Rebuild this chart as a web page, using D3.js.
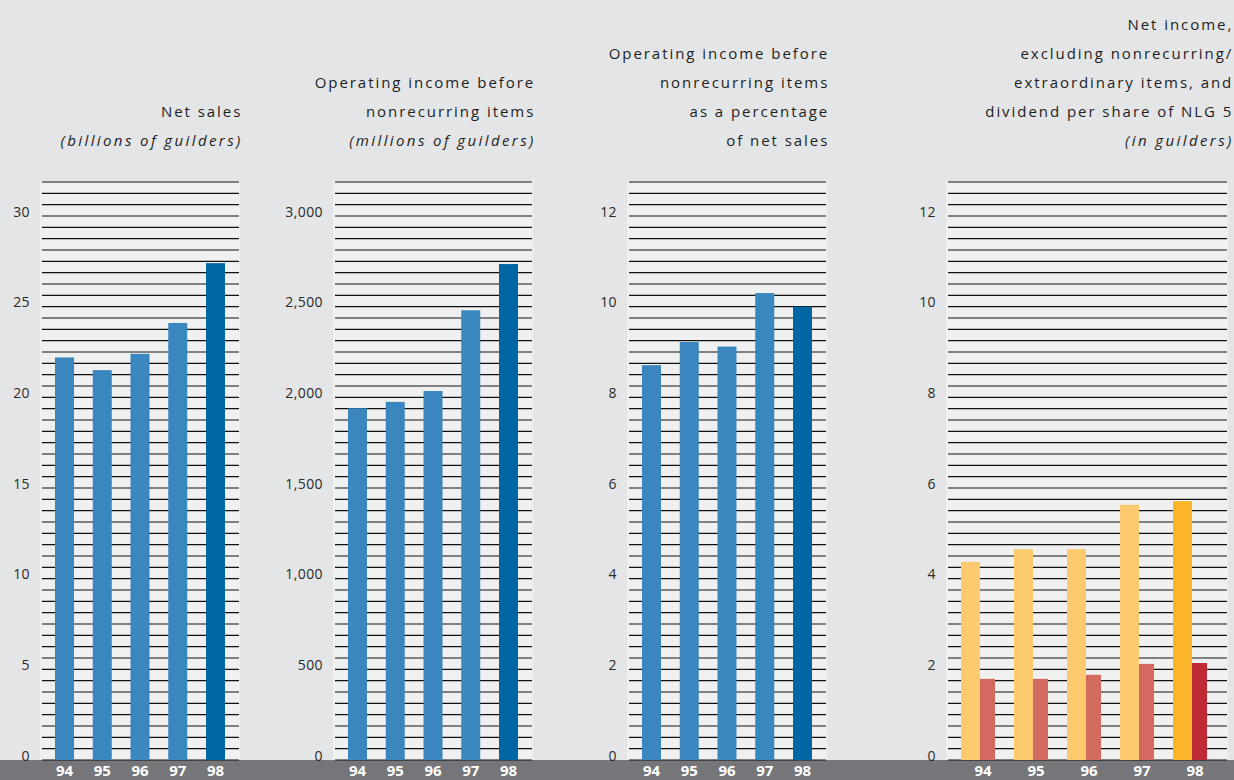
<!DOCTYPE html>
<html>
<head>
<meta charset="utf-8">
<script src="https://cdn.jsdelivr.net/npm/d3@7"></script>
<style>
html,body{margin:0;padding:0;background:#e4e5e7;}
svg{display:block;}
</style>
</head>
<body>
<svg id="chart" width="1234" height="780"></svg>
<script>
// ---- data ----
const years = ["94", "95", "96", "97", "98"];
const netSales = [22.2, 21.5, 22.4, 24.1, 27.4];            // billions of guilders
const operatingIncome = [1940, 1975, 2035, 2480, 2735];     // millions of guilders
const operatingMargin = [8.71, 9.22, 9.12, 10.3, 10.0];     // % of net sales
const netIncomePerShare = [4.37, 4.65, 4.65, 5.63, 5.71];   // guilders
const dividendPerShare = [1.79, 1.79, 1.88, 2.12, 2.14];    // guilders

const netSalesTicks = [0, 5, 10, 15, 20, 25, 30];
const operatingIncomeTicks = [0, 500, 1000, 1500, 2000, 2500, 3000];
const marginTicks = [0, 2, 4, 6, 8, 10, 12];
const perShareTicks = [0, 2, 4, 6, 8, 10, 12];

const titles1 = ["Net sales", "(billions of guilders)"];
const titles2 = ["Operating income before", "nonrecurring items", "(millions of guilders)"];
const titles3 = ["Operating income before", "nonrecurring items", "as a percentage", "of net sales"];
const titles4 = ["Net income,", "excluding nonrecurring/", "extraordinary items, and", "dividend per share of NLG 5", "(in guilders)"];

// ---- layout ----
const svg = d3.select("#chart");
const W = 1234, H = 780;
const yBase = 760, yTickTop = 216, yPanelTop = 181;
const font = "'Open Sans', 'DejaVu Sans', sans-serif";

const colLight = "#3a86be", colDark = "#0066a4";
const orangeLight = "#fdca6f", orangeDark = "#fbb52b";
const redLight = "#d26a5f", redDark = "#c02a35";

svg.append("rect").attr("x", 0).attr("y", 0).attr("width", W).attr("height", H).attr("fill", "#e4e5e7");

function panel(opts) {
  const {x0, x1, ticks, fmt, titles, titleX, italicLast} = opts;
  const tickMax = ticks[ticks.length - 1];
  const y = d3.scaleLinear().domain([0, tickMax]).range([yBase, yTickTop]);
  const g = svg.append("g");
  g.append("rect").attr("x", x0).attr("y", yPanelTop).attr("width", x1 - x0).attr("height", yBase - yPanelTop)
    .attr("fill", "#f0f0f0");
  // decorative rules: 48 per tick range
  const gridVals = d3.range(52).map(i => i * tickMax / 48);
  g.selectAll("line.grid").data(gridVals).join("line")
    .attr("x1", x0 + 2).attr("x2", x1 - 1)
    .attr("y1", d => y(d)).attr("y2", d => y(d))
    .attr("stroke", "#111").attr("stroke-width", 1.1);
  // tick labels
  g.selectAll("text.tick").data(ticks).join("text")
    .attr("x", x0 - 10).attr("y", d => y(d) + 0.7)
    .attr("text-anchor", "end")
    .attr("font-family", font).attr("font-size", 14).attr("letter-spacing", "0.4px")
    .attr("fill", "#2a2a2a")
    .text(d => fmt(d));
  // titles
  const n = titles.length;
  titles.forEach((t, i) => {
    const isItalic = italicLast && i === n - 1;
    const ls = isItalic ? 2.4 : 1.95;
    g.append("text")
      .attr("x", titleX + ls - 1.7).attr("y", 146 - (n - 1 - i) * 29)
      .attr("text-anchor", "end")
      .attr("font-family", font).attr("font-size", 15)
      .attr("letter-spacing", ls + "px")
      .attr("font-style", isItalic ? "italic" : "normal")
      .attr("fill", "#1e1e1e")
      .text(t);
  });
  return {g, y};
}

// bottom strip
svg.append("rect").attr("x", 0).attr("y", yBase).attr("width", W).attr("height", H - yBase).attr("fill", "#757679");

function yearLabels(xs) {
  svg.append("g").selectAll("text").data(years).join("text")
    .attr("x", d => xs(d)).attr("y", 776)
    .attr("text-anchor", "middle")
    .attr("font-family", font).attr("font-size", 15).attr("font-weight", "bold")
    .attr("fill", "#ffffff")
    .text(d => d);
}

function singlePanel(x0, x1, values, ticks, fmt, titles, italicLast) {
  const p = panel({x0, x1, ticks, fmt, titles, titleX: x1 + 2, italicLast});
  const x = d3.scaleBand().domain(years).range([x0, x1]).paddingInner(0.497).paddingOuter(0.397);
  p.g.selectAll("rect.bar").data(values).join("rect")
    .attr("x", (d, i) => x(years[i])).attr("width", x.bandwidth())
    .attr("y", d => p.y(d)).attr("height", d => yBase - p.y(d))
    .attr("fill", (d, i) => i === years.length - 1 ? colDark : colLight);
  yearLabels(d => x(d) + x.bandwidth() / 2);
}

const comma = d3.format(",");
singlePanel(40, 240, netSales, netSalesTicks, d => d, titles1, true);
singlePanel(333, 533, operatingIncome, operatingIncomeTicks, d => comma(d), titles2, true);
singlePanel(627, 827, operatingMargin, marginTicks, d => d, titles3, false);

// panel 4 grouped
{
  const x0 = 946, x1 = 1228;
  const p = panel({x0, x1, ticks: perShareTicks, fmt: d => d, titles: titles4, titleX: 1233, italicLast: true});
  const xb = d3.scaleBand().domain(years).range([961, 961 + 53 * 5]).paddingInner(0).paddingOuter(0);
  const sub = d3.scaleOrdinal().domain(["ni", "div"]).range([0, 19]);
  p.g.selectAll("rect.ni").data(netIncomePerShare).join("rect")
    .attr("x", (d, i) => xb(years[i]) + sub("ni")).attr("width", 19)
    .attr("y", d => p.y(d)).attr("height", d => yBase - p.y(d))
    .attr("fill", (d, i) => i === years.length - 1 ? orangeDark : orangeLight);
  p.g.selectAll("rect.dv").data(dividendPerShare).join("rect")
    .attr("x", (d, i) => xb(years[i]) + sub("div")).attr("width", 15)
    .attr("y", d => p.y(d)).attr("height", d => yBase - p.y(d))
    .attr("fill", (d, i) => i === years.length - 1 ? redDark : redLight);
  yearLabels(d => xb(d) + 22);
}
</script>
</body>
</html>
